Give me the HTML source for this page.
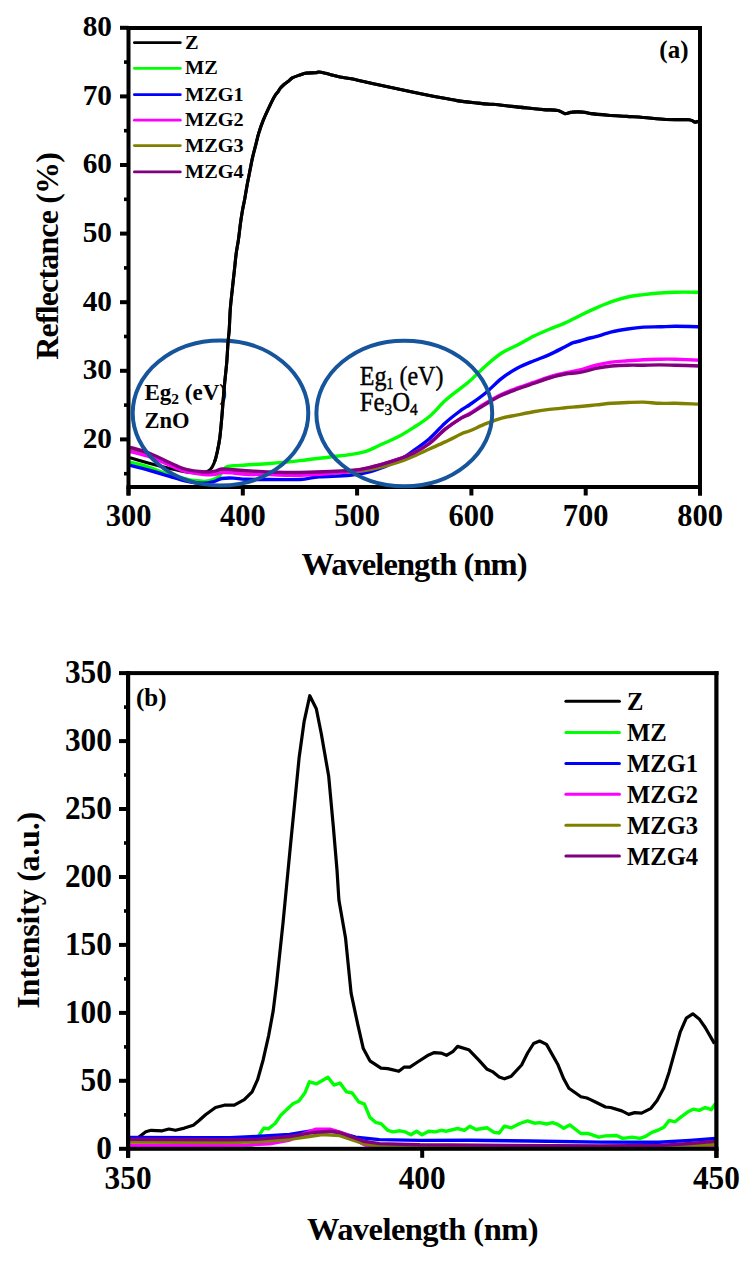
<!DOCTYPE html><html><head><meta charset="utf-8"><style>html,body{margin:0;padding:0;background:#fff;}svg{display:block;}text{font-family:"Liberation Serif",serif;}</style></head><body>
<svg width="756" height="1262" viewBox="0 0 756 1262">
<rect width="756" height="1262" fill="#fff"/>
<path d="M130.0 457.8 C133.3 458.8 143.3 461.7 150.0 463.5 C156.7 465.3 164.0 467.1 170.0 468.5 C176.0 469.9 181.8 471.3 186.0 472.0 C190.2 472.7 191.8 472.8 195.0 472.8 C198.2 472.8 202.4 472.8 205.0 472.2 C207.6 471.6 208.8 471.0 210.3 469.5 C211.8 468.0 212.9 466.1 214.1 463.1 C215.3 460.1 216.4 455.9 217.3 451.7 C218.2 447.5 219.1 443.3 219.8 437.8 C220.5 432.3 221.1 425.1 221.7 418.7 C222.3 412.3 222.7 406.0 223.2 399.7 C223.7 393.4 224.3 387.0 224.9 380.7 C225.5 374.4 226.3 368.0 226.8 361.7 C227.3 355.4 227.6 348.0 228.0 342.7 C228.4 337.4 228.8 335.6 229.2 330.0 C229.6 324.4 229.8 315.6 230.3 309.0 C230.8 302.4 231.5 296.7 232.2 290.5 C232.8 284.3 233.5 278.2 234.2 272.0 C234.9 265.8 235.5 258.8 236.2 253.5 C236.9 248.2 237.7 244.8 238.4 240.0 C239.1 235.2 239.7 229.2 240.3 224.5 C240.9 219.8 241.5 216.1 242.2 211.9 C242.9 207.7 243.8 203.8 244.7 199.2 C245.5 194.5 246.5 188.7 247.3 184.0 C248.2 179.3 249.0 175.5 249.8 171.3 C250.6 167.1 251.4 162.8 252.3 158.6 C253.2 154.4 254.4 150.1 255.5 145.9 C256.6 141.7 257.4 137.4 258.7 133.2 C260.0 129.0 261.3 125.0 263.1 120.6 C264.9 116.2 267.5 110.6 269.4 106.6 C271.3 102.6 273.0 99.0 274.5 96.5 C276.0 94.0 277.4 92.7 278.3 91.4 C279.2 90.1 279.1 89.8 280.0 88.6 C280.9 87.4 282.7 85.7 284.0 84.5 C285.3 83.3 286.6 82.6 288.0 81.5 C289.4 80.4 290.6 78.8 292.7 77.7 C294.8 76.6 298.4 75.5 300.6 74.7 C302.9 73.9 303.7 73.4 306.2 73.1 C308.7 72.8 313.6 72.9 315.7 72.7 C317.8 72.5 317.4 71.9 318.9 72.0 C320.3 72.1 322.4 72.6 324.4 73.1 C326.4 73.5 328.2 74.0 330.8 74.7 C333.4 75.4 336.6 76.4 340.0 77.1 C343.4 77.8 345.8 77.7 351.2 78.8 C356.6 79.9 365.2 82.1 372.3 83.6 C379.4 85.1 386.4 86.4 393.5 87.9 C400.6 89.4 407.6 91.0 414.7 92.5 C421.8 94.0 428.8 95.4 435.8 96.7 C442.9 98.0 449.9 99.5 457.0 100.6 C464.1 101.7 472.6 102.5 478.1 103.1 C483.6 103.7 487.0 104.0 490.0 104.2 C493.0 104.4 492.3 104.1 495.9 104.5 C499.5 104.9 506.4 105.8 511.7 106.4 C517.0 107.0 522.3 107.5 527.6 108.0 C532.9 108.5 538.5 109.2 543.5 109.6 C548.5 110.0 554.2 109.7 557.8 110.4 C561.4 111.1 562.5 113.3 564.9 113.6 C567.3 113.9 569.0 112.3 572.1 112.1 C575.2 111.8 580.0 111.8 583.2 112.1 C586.4 112.3 586.9 113.1 591.1 113.6 C595.3 114.1 602.4 114.7 608.3 115.2 C614.2 115.7 620.7 116.0 626.5 116.4 C632.3 116.8 636.6 117.0 643.2 117.5 C649.8 118.0 658.5 119.1 666.1 119.5 C673.7 119.9 684.1 119.4 688.9 119.8 C693.7 120.2 693.4 121.8 695.0 122.1 C696.6 122.3 697.9 121.4 698.5 121.3" fill="none" stroke="#000" stroke-width="3.1" stroke-linejoin="round" stroke-linecap="butt"/>
<path d="M130.0 462.2 C133.3 463.1 142.7 465.1 150.0 467.5 C157.3 469.9 167.6 474.6 173.6 476.5 C179.6 478.4 182.6 478.3 186.0 479.0 C189.4 479.7 190.6 480.1 193.9 480.5 C197.2 480.9 202.5 481.5 205.8 481.3 C209.1 481.1 211.6 480.2 213.8 479.3 C216.1 478.4 217.3 478.2 219.3 476.2 C221.3 474.2 223.3 469.1 225.7 467.4 C228.1 465.7 230.2 466.2 233.6 465.8 C237.0 465.4 239.9 465.4 246.0 465.0 C252.1 464.6 261.0 464.2 270.0 463.5 C279.0 462.8 290.0 461.7 300.0 460.6 C310.0 459.5 321.7 458.0 330.0 457.0 C338.3 456.0 344.0 455.5 350.0 454.6 C356.0 453.7 360.6 453.1 365.9 451.4 C371.2 449.7 376.4 446.7 381.7 444.3 C387.0 441.9 392.3 439.9 397.6 437.1 C402.9 434.3 408.2 431.0 413.5 427.6 C418.8 424.2 424.1 421.0 429.4 416.5 C434.7 412.0 439.9 405.4 445.2 400.6 C450.5 395.8 457.0 391.2 461.1 387.9 C465.2 384.6 465.9 384.5 470.0 380.8 C474.1 377.1 480.6 370.3 485.9 365.7 C491.2 361.1 496.4 356.4 501.7 353.0 C507.0 349.6 512.3 347.9 517.6 345.1 C522.9 342.3 528.2 339.0 533.5 336.3 C538.8 333.6 544.1 331.4 549.4 329.2 C554.7 327.0 559.9 325.3 565.2 322.9 C570.5 320.5 576.0 317.5 581.1 315.0 C586.2 312.5 590.8 310.3 595.9 308.1 C601.0 305.9 606.4 303.6 611.7 301.7 C617.0 299.8 622.3 298.2 627.6 297.0 C632.9 295.8 638.2 295.3 643.5 294.6 C648.8 293.9 654.1 293.4 659.4 293.0 C664.7 292.6 668.4 292.3 675.2 292.2 C682.0 292.1 695.9 292.2 700.0 292.2" fill="none" stroke="#00ff00" stroke-width="3.4" stroke-linejoin="round" stroke-linecap="butt"/>
<path d="M130.0 465.4 C133.3 466.2 142.4 468.4 150.0 470.5 C157.6 472.6 169.6 476.4 175.6 478.1 C181.6 479.9 181.6 480.1 186.0 481.0 C190.4 481.9 197.3 483.2 201.9 483.3 C206.5 483.4 210.5 482.5 213.8 481.7 C217.1 480.9 218.4 479.1 221.7 478.5 C225.0 477.9 229.5 478.0 233.6 478.1 C237.7 478.2 239.9 479.1 246.0 479.3 C252.1 479.5 261.0 479.5 270.0 479.5 C279.0 479.5 291.8 479.9 300.0 479.5 C308.2 479.1 310.7 477.5 319.0 476.8 C327.3 476.1 340.9 476.2 350.0 475.2 C359.1 474.1 365.9 472.9 373.8 470.5 C381.7 468.1 391.0 464.3 397.6 461.0 C404.2 457.7 408.2 454.3 413.5 450.6 C418.8 446.9 424.1 443.3 429.4 438.7 C434.7 434.1 439.9 427.6 445.2 422.9 C450.5 418.1 457.0 413.3 461.1 410.2 C465.2 407.1 465.9 407.4 470.0 404.5 C474.1 401.6 480.6 397.1 485.9 392.7 C491.2 388.3 496.4 382.5 501.7 378.4 C507.0 374.3 512.3 371.0 517.6 368.1 C522.9 365.2 528.2 363.2 533.5 361.0 C538.8 358.8 544.1 357.0 549.4 354.6 C554.7 352.2 561.2 348.7 565.2 346.7 C569.2 344.7 570.7 343.6 573.2 342.7 C575.7 341.8 577.2 341.8 580.0 341.0 C582.8 340.2 587.4 338.7 590.0 338.0 C592.6 337.3 592.3 337.7 595.9 336.7 C599.5 335.7 606.4 333.2 611.7 331.9 C617.0 330.6 622.3 329.8 627.6 329.0 C632.9 328.2 638.2 327.5 643.5 327.1 C648.8 326.7 654.1 326.9 659.4 326.8 C664.7 326.7 668.4 326.3 675.2 326.3 C682.0 326.3 695.9 326.7 700.0 326.8" fill="none" stroke="#0000ff" stroke-width="3.4" stroke-linejoin="round" stroke-linecap="butt"/>
<path d="M130.0 449.0 C133.3 450.0 142.4 452.1 150.0 455.0 C157.6 457.9 169.6 463.7 175.6 466.2 C181.6 468.7 181.6 469.1 186.0 470.2 C190.4 471.3 197.3 472.3 201.9 472.8 C206.5 473.3 210.5 473.3 213.8 473.0 C217.1 472.7 218.4 471.1 221.7 470.8 C225.0 470.5 229.5 471.1 233.6 471.3 C237.7 471.6 234.9 471.9 246.0 472.3 C257.1 472.7 282.7 473.8 300.0 473.8 C317.3 473.8 337.7 472.9 350.0 472.1 C362.3 471.3 365.9 470.5 373.8 468.9 C381.7 467.3 391.0 464.6 397.6 462.5 C404.2 460.4 408.2 458.4 413.5 456.2 C418.8 453.9 424.1 451.4 429.4 449.0 C434.7 446.6 439.9 444.4 445.2 441.9 C450.5 439.4 457.0 435.9 461.1 434.0 C465.2 432.1 465.9 432.5 470.0 430.8 C474.1 429.1 480.6 425.8 485.9 423.7 C491.2 421.6 496.4 419.6 501.7 418.1 C507.0 416.6 512.3 416.0 517.6 414.9 C522.9 413.8 528.2 412.6 533.5 411.7 C538.8 410.8 544.1 410.0 549.4 409.4 C554.7 408.8 560.1 408.3 565.2 407.8 C570.3 407.3 574.9 407.0 580.0 406.5 C585.1 406.0 590.6 405.4 595.9 404.9 C601.2 404.4 606.4 403.7 611.7 403.3 C617.0 402.9 622.3 402.7 627.6 402.5 C632.9 402.3 638.2 402.0 643.5 402.1 C648.8 402.2 654.1 403.1 659.4 403.3 C664.7 403.5 668.4 403.2 675.2 403.3 C682.0 403.4 695.9 404.0 700.0 404.1" fill="none" stroke="#808000" stroke-width="3.4" stroke-linejoin="round" stroke-linecap="butt"/>
<path d="M130.0 451.5 C133.3 452.4 142.4 454.3 150.0 457.0 C157.6 459.7 169.6 465.4 175.6 467.8 C181.6 470.2 181.6 470.4 186.0 471.5 C190.4 472.6 197.3 473.7 201.9 474.2 C206.5 474.7 210.5 474.9 213.8 474.6 C217.1 474.3 218.4 472.9 221.7 472.6 C225.0 472.3 229.5 472.7 233.6 473.0 C237.7 473.3 239.9 473.9 246.0 474.2 C252.1 474.5 261.0 474.4 270.0 474.6 C279.0 474.8 286.7 475.7 300.0 475.2 C313.3 474.7 337.7 472.9 350.0 471.5 C362.3 470.1 365.9 468.5 373.8 466.5 C381.7 464.5 391.0 461.6 397.6 459.4 C404.2 457.1 408.2 455.6 413.5 453.0 C418.8 450.4 424.1 447.5 429.4 443.5 C434.7 439.5 439.9 433.4 445.2 429.2 C450.5 425.0 457.0 420.8 461.1 418.1 C465.2 415.5 465.9 415.8 470.0 413.3 C474.1 410.8 480.6 406.2 485.9 403.0 C491.2 399.8 496.4 396.8 501.7 394.3 C507.0 391.8 512.3 389.9 517.6 387.9 C522.9 385.9 528.2 384.2 533.5 382.4 C538.8 380.5 544.1 378.4 549.4 376.8 C554.7 375.2 560.1 374.0 565.2 372.9 C570.3 371.8 574.9 371.3 580.0 370.0 C585.1 368.7 590.6 366.5 595.9 365.2 C601.2 363.9 606.4 362.8 611.7 362.1 C617.0 361.4 622.3 361.2 627.6 360.8 C632.9 360.4 638.2 360.0 643.5 359.7 C648.8 359.4 654.1 359.3 659.4 359.2 C664.7 359.1 668.4 359.0 675.2 359.2 C682.0 359.4 695.9 360.0 700.0 360.2" fill="none" stroke="#ff00ff" stroke-width="3.4" stroke-linejoin="round" stroke-linecap="butt"/>
<path d="M130.0 447.3 C133.3 448.3 142.4 450.5 150.0 453.5 C157.6 456.5 169.6 462.8 175.6 465.4 C181.6 468.0 181.6 468.3 186.0 469.4 C190.4 470.5 197.3 471.5 201.9 471.8 C206.5 472.1 210.5 471.9 213.8 471.4 C217.1 470.9 218.4 469.3 221.7 469.0 C225.0 468.7 229.5 469.5 233.6 469.8 C237.7 470.1 239.9 470.2 246.0 470.6 C252.1 471.0 261.0 471.7 270.0 472.0 C279.0 472.3 286.7 472.8 300.0 472.5 C313.3 472.2 337.7 471.5 350.0 470.5 C362.3 469.5 365.9 468.4 373.8 466.5 C381.7 464.6 391.0 461.6 397.6 459.4 C404.2 457.1 408.2 455.6 413.5 453.0 C418.8 450.4 424.1 447.5 429.4 443.5 C434.7 439.5 439.9 433.4 445.2 429.2 C450.5 425.0 457.0 420.6 461.1 418.1 C465.2 415.6 465.9 416.4 470.0 414.0 C474.1 411.6 480.6 407.1 485.9 404.0 C491.2 400.9 496.4 397.8 501.7 395.3 C507.0 392.8 512.3 391.0 517.6 389.0 C522.9 387.0 528.2 385.3 533.5 383.5 C538.8 381.7 544.1 379.6 549.4 378.0 C554.7 376.4 560.1 374.9 565.2 374.0 C570.3 373.1 574.9 373.3 580.0 372.4 C585.1 371.5 590.6 369.5 595.9 368.4 C601.2 367.3 606.4 366.5 611.7 366.0 C617.0 365.5 622.3 365.3 627.6 365.2 C632.9 365.1 638.2 365.2 643.5 365.2 C648.8 365.1 654.1 364.9 659.4 364.9 C664.7 364.9 668.4 365.0 675.2 365.2 C682.0 365.4 695.9 365.9 700.0 366.0" fill="none" stroke="#800080" stroke-width="3.4" stroke-linejoin="round" stroke-linecap="butt"/>
<g fill="#000">
<rect x="126.5" y="26.0" width="575.5" height="4.0"/>
<rect x="126.5" y="485.0" width="575.5" height="4.0"/>
<rect x="126.5" y="26.0" width="4.0" height="469.5"/>
<rect x="698.0" y="26.0" width="4.0" height="469.5"/>
<rect x="120.0" y="437.4" width="8.5" height="4"/>
<rect x="120.0" y="368.8" width="8.5" height="4"/>
<rect x="120.0" y="300.2" width="8.5" height="4"/>
<rect x="120.0" y="231.6" width="8.5" height="4"/>
<rect x="120.0" y="163.0" width="8.5" height="4"/>
<rect x="120.0" y="94.4" width="8.5" height="4"/>
<rect x="120.0" y="25.8" width="8.5" height="4"/>
<rect x="124.0" y="471.9" width="4.5" height="3.6"/>
<rect x="124.0" y="403.3" width="4.5" height="3.6"/>
<rect x="124.0" y="334.7" width="4.5" height="3.6"/>
<rect x="124.0" y="266.1" width="4.5" height="3.6"/>
<rect x="124.0" y="197.5" width="4.5" height="3.6"/>
<rect x="124.0" y="128.9" width="4.5" height="3.6"/>
<rect x="124.0" y="60.3" width="4.5" height="3.6"/>
<rect x="126.5" y="487.0" width="4" height="8.5"/>
<rect x="240.8" y="487.0" width="4" height="8.5"/>
<rect x="355.1" y="487.0" width="4" height="8.5"/>
<rect x="469.4" y="487.0" width="4" height="8.5"/>
<rect x="583.7" y="487.0" width="4" height="8.5"/>
<rect x="698.0" y="487.0" width="4" height="8.5"/>
</g>
<ellipse cx="220.5" cy="413" rx="87.8" ry="72.5" fill="none" stroke="#16559b" stroke-width="4"/>
<ellipse cx="404.3" cy="413.5" rx="87.9" ry="72.8" fill="none" stroke="#16559b" stroke-width="4"/>
<clipPath id="ca"><rect x="205" y="0" width="551" height="462"/></clipPath>
<path clip-path="url(#ca)" d="M130.0 457.8 C133.3 458.8 143.3 461.7 150.0 463.5 C156.7 465.3 164.0 467.1 170.0 468.5 C176.0 469.9 181.8 471.3 186.0 472.0 C190.2 472.7 191.8 472.8 195.0 472.8 C198.2 472.8 202.4 472.8 205.0 472.2 C207.6 471.6 208.8 471.0 210.3 469.5 C211.8 468.0 212.9 466.1 214.1 463.1 C215.3 460.1 216.4 455.9 217.3 451.7 C218.2 447.5 219.1 443.3 219.8 437.8 C220.5 432.3 221.1 425.1 221.7 418.7 C222.3 412.3 222.7 406.0 223.2 399.7 C223.7 393.4 224.3 387.0 224.9 380.7 C225.5 374.4 226.3 368.0 226.8 361.7 C227.3 355.4 227.6 348.0 228.0 342.7 C228.4 337.4 228.8 335.6 229.2 330.0 C229.6 324.4 229.8 315.6 230.3 309.0 C230.8 302.4 231.5 296.7 232.2 290.5 C232.8 284.3 233.5 278.2 234.2 272.0 C234.9 265.8 235.5 258.8 236.2 253.5 C236.9 248.2 237.7 244.8 238.4 240.0 C239.1 235.2 239.7 229.2 240.3 224.5 C240.9 219.8 241.5 216.1 242.2 211.9 C242.9 207.7 243.8 203.8 244.7 199.2 C245.5 194.5 246.5 188.7 247.3 184.0 C248.2 179.3 249.0 175.5 249.8 171.3 C250.6 167.1 251.4 162.8 252.3 158.6 C253.2 154.4 254.4 150.1 255.5 145.9 C256.6 141.7 257.4 137.4 258.7 133.2 C260.0 129.0 261.3 125.0 263.1 120.6 C264.9 116.2 267.5 110.6 269.4 106.6 C271.3 102.6 273.0 99.0 274.5 96.5 C276.0 94.0 277.4 92.7 278.3 91.4 C279.2 90.1 279.1 89.8 280.0 88.6 C280.9 87.4 282.7 85.7 284.0 84.5 C285.3 83.3 286.6 82.6 288.0 81.5 C289.4 80.4 290.6 78.8 292.7 77.7 C294.8 76.6 298.4 75.5 300.6 74.7 C302.9 73.9 303.7 73.4 306.2 73.1 C308.7 72.8 313.6 72.9 315.7 72.7 C317.8 72.5 317.4 71.9 318.9 72.0 C320.3 72.1 322.4 72.6 324.4 73.1 C326.4 73.5 328.2 74.0 330.8 74.7 C333.4 75.4 336.6 76.4 340.0 77.1 C343.4 77.8 345.8 77.7 351.2 78.8 C356.6 79.9 365.2 82.1 372.3 83.6 C379.4 85.1 386.4 86.4 393.5 87.9 C400.6 89.4 407.6 91.0 414.7 92.5 C421.8 94.0 428.8 95.4 435.8 96.7 C442.9 98.0 449.9 99.5 457.0 100.6 C464.1 101.7 472.6 102.5 478.1 103.1 C483.6 103.7 487.0 104.0 490.0 104.2 C493.0 104.4 492.3 104.1 495.9 104.5 C499.5 104.9 506.4 105.8 511.7 106.4 C517.0 107.0 522.3 107.5 527.6 108.0 C532.9 108.5 538.5 109.2 543.5 109.6 C548.5 110.0 554.2 109.7 557.8 110.4 C561.4 111.1 562.5 113.3 564.9 113.6 C567.3 113.9 569.0 112.3 572.1 112.1 C575.2 111.8 580.0 111.8 583.2 112.1 C586.4 112.3 586.9 113.1 591.1 113.6 C595.3 114.1 602.4 114.7 608.3 115.2 C614.2 115.7 620.7 116.0 626.5 116.4 C632.3 116.8 636.6 117.0 643.2 117.5 C649.8 118.0 658.5 119.1 666.1 119.5 C673.7 119.9 684.1 119.4 688.9 119.8 C693.7 120.2 693.4 121.8 695.0 122.1 C696.6 122.3 697.9 121.4 698.5 121.3" fill="none" stroke="#000" stroke-width="3.1" stroke-linejoin="round"/>
<text font-weight="bold" font-size="30.3" text-anchor="end" transform="translate(112.0 447.8) scale(0.967 1)">20</text>
<text font-weight="bold" font-size="30.3" text-anchor="end" transform="translate(112.0 379.2) scale(0.967 1)">30</text>
<text font-weight="bold" font-size="30.3" text-anchor="end" transform="translate(112.0 310.6) scale(0.967 1)">40</text>
<text font-weight="bold" font-size="30.3" text-anchor="end" transform="translate(112.0 242.0) scale(0.967 1)">50</text>
<text font-weight="bold" font-size="30.3" text-anchor="end" transform="translate(112.0 173.4) scale(0.967 1)">60</text>
<text font-weight="bold" font-size="30.3" text-anchor="end" transform="translate(112.0 104.8) scale(0.967 1)">70</text>
<text font-weight="bold" font-size="30.3" text-anchor="end" transform="translate(112.0 36.2) scale(0.967 1)">80</text>
<text font-weight="bold" font-size="30.5" text-anchor="middle" transform="translate(128.5 525.6) scale(1.0 1)">300</text>
<text font-weight="bold" font-size="30.5" text-anchor="middle" transform="translate(242.8 525.6) scale(1.0 1)">400</text>
<text font-weight="bold" font-size="30.5" text-anchor="middle" transform="translate(357.1 525.6) scale(1.0 1)">500</text>
<text font-weight="bold" font-size="30.5" text-anchor="middle" transform="translate(471.4 525.6) scale(1.0 1)">600</text>
<text font-weight="bold" font-size="30.5" text-anchor="middle" transform="translate(585.7 525.6) scale(1.0 1)">700</text>
<text font-weight="bold" font-size="30.5" text-anchor="middle" transform="translate(700.0 525.6) scale(1.0 1)">800</text>
<text x="301.5" y="575.4" font-weight="bold" font-size="32.5" textLength="226" lengthAdjust="spacing">Wavelength (nm)</text>
<text transform="translate(58 359.7) rotate(-90)" font-weight="bold" font-size="32" textLength="207.5" lengthAdjust="spacing">Reflectance (%)</text>
<text x="688.5" y="58" font-weight="bold" font-size="25" text-anchor="end">(a)</text>
<line x1="134.4" y1="42.7" x2="180.3" y2="42.7" stroke="#000" stroke-width="2.8" stroke-linecap="round"/>
<text x="185" y="48.7" font-weight="bold" font-size="19" transform="translate(185 0) scale(1.07 1) translate(-185 0)">Z</text>
<line x1="134.4" y1="68.3" x2="180.3" y2="68.3" stroke="#00ff00" stroke-width="2.8" stroke-linecap="round"/>
<text x="185" y="74.3" font-weight="bold" font-size="19" transform="translate(185 0) scale(1.07 1) translate(-185 0)">MZ</text>
<line x1="134.4" y1="94.7" x2="180.3" y2="94.7" stroke="#0000ff" stroke-width="2.8" stroke-linecap="round"/>
<text x="185" y="100.7" font-weight="bold" font-size="19" transform="translate(185 0) scale(1.07 1) translate(-185 0)">MZG1</text>
<line x1="134.4" y1="120.2" x2="180.3" y2="120.2" stroke="#ff00ff" stroke-width="2.8" stroke-linecap="round"/>
<text x="185" y="126.2" font-weight="bold" font-size="19" transform="translate(185 0) scale(1.07 1) translate(-185 0)">MZG2</text>
<line x1="134.4" y1="145.6" x2="180.3" y2="145.6" stroke="#808000" stroke-width="2.8" stroke-linecap="round"/>
<text x="185" y="151.6" font-weight="bold" font-size="19" transform="translate(185 0) scale(1.07 1) translate(-185 0)">MZG3</text>
<line x1="134.4" y1="171.9" x2="180.3" y2="171.9" stroke="#800080" stroke-width="2.8" stroke-linecap="round"/>
<text x="185" y="177.9" font-weight="bold" font-size="19" transform="translate(185 0) scale(1.07 1) translate(-185 0)">MZG4</text>
<text x="144.5" y="400.1" font-weight="bold" font-size="23">Eg<tspan font-size="15.5" dy="3.5">2</tspan><tspan dy="-3.5"> (eV)</tspan></text>
<text x="144.5" y="428" font-weight="bold" font-size="22.5">ZnO</text>
<text font-size="27.5" stroke="#000" stroke-width="0.45" transform="translate(359.8 384.5) scale(0.873 1)">Eg<tspan font-size="16" dy="4">1</tspan><tspan dy="-4"> (eV)</tspan></text>
<text font-size="27.5" stroke="#000" stroke-width="0.45" transform="translate(359.8 410.9) scale(0.9 1)">Fe<tspan font-size="17" dy="4.5">3</tspan><tspan dy="-4.5">O</tspan><tspan font-size="17" dy="4.5">4</tspan></text>
<path d="M128.5 1141.0 L136.0 1139.5 L140.0 1136.3 L145.8 1131.8 L151.1 1130.3 L162.2 1130.8 L168.9 1129.0 L175.5 1130.3 L184.4 1128.1 L193.3 1125.2 L198.8 1120.8 L205.5 1114.8 L215.5 1107.5 L224.3 1105.2 L234.3 1105.2 L244.3 1099.7 L252.1 1091.9 L257.6 1079.7 L263.2 1059.7 L268.7 1035.3 L273.2 1010.9 L276.5 984.3 L279.8 953.2 L283.1 922.1 L286.5 886.6 L290.7 843.0 L294.4 805.9 L299.1 757.8 L304.1 721.7 L309.8 695.7 L316.3 708.7 L321.3 733.7 L328.7 776.3 L333.3 826.3 L337.0 870.0 L338.9 900.0 L345.5 937.7 L351.1 993.2 L357.7 1024.2 L363.3 1048.6 L369.9 1060.8 L381.0 1068.2 L387.7 1068.6 L398.8 1071.3 L404.3 1067.1 L409.9 1067.1 L417.6 1062.0 L428.7 1054.9 L434.3 1052.6 L441.0 1053.1 L446.5 1055.3 L453.2 1051.3 L457.6 1046.4 L468.7 1049.7 L478.6 1059.9 L487.2 1069.3 L492.4 1071.6 L499.2 1077.1 L504.4 1078.8 L511.3 1076.2 L521.6 1065.0 L527.6 1053.0 L533.6 1043.5 L539.6 1041.0 L546.5 1044.4 L557.7 1064.2 L563.7 1078.8 L568.9 1088.2 L580.9 1096.8 L586.9 1098.0 L590.0 1099.4 L596.9 1102.8 L605.5 1107.0 L610.6 1107.5 L621.8 1110.9 L628.7 1114.4 L634.7 1112.6 L641.6 1113.2 L651.0 1108.3 L657.1 1100.6 L663.9 1087.7 L669.1 1072.2 L674.3 1053.3 L680.3 1031.8 L686.3 1018.1 L692.8 1013.8 L699.2 1018.9 L705.2 1027.5 L714.5 1043.6" fill="none" stroke="#000" stroke-width="3.2" stroke-linejoin="round" stroke-linecap="butt"/>
<path d="M129.0 1145.5 L150.0 1145.5 L165.0 1147.3 L250.0 1147.3 L258.5 1136.1 L263.8 1128.1 L268.4 1128.8 L275.1 1123.5 L281.0 1114.9 L292.9 1103.7 L298.9 1101.0 L304.8 1093.1 L309.4 1081.8 L316.7 1083.8 L328.0 1077.2 L333.9 1085.1 L340.0 1083.0 L346.6 1091.9 L352.2 1093.0 L358.8 1101.9 L364.4 1104.1 L369.9 1117.4 L375.5 1122.3 L381.0 1123.6 L387.7 1130.3 L393.2 1131.9 L399.9 1130.8 L405.4 1131.9 L411.0 1134.7 L416.5 1131.2 L422.1 1134.7 L428.7 1131.2 L435.4 1131.9 L441.0 1130.3 L446.5 1131.2 L457.6 1128.5 L464.3 1130.3 L469.8 1126.3 L476.0 1129.5 L487.2 1127.8 L494.1 1132.4 L499.2 1133.0 L504.4 1126.1 L511.3 1127.8 L519.9 1123.5 L527.6 1120.9 L534.5 1123.2 L539.6 1122.6 L546.5 1124.0 L552.5 1122.6 L557.7 1124.4 L563.7 1128.3 L569.7 1124.9 L580.9 1133.5 L587.8 1133.5 L590.0 1134.1 L598.6 1137.2 L605.5 1135.9 L616.7 1135.5 L622.7 1138.4 L632.1 1137.2 L639.9 1138.4 L645.0 1136.7 L651.9 1132.4 L658.8 1129.8 L663.9 1127.3 L669.1 1120.4 L675.1 1121.8 L681.1 1116.9 L688.0 1111.8 L693.2 1109.2 L699.2 1110.4 L705.2 1107.5 L711.2 1109.7 L715.5 1103.5" fill="none" stroke="#00ff00" stroke-width="3.4" stroke-linejoin="round" stroke-linecap="butt"/>
<path d="M129.0 1137.4 L200.0 1137.6 L230.0 1137.6 L256.5 1136.5 L289.5 1134.5 L309.4 1131.2 L320.0 1130.5 L335.0 1131.5 L355.6 1137.2 L379.4 1139.6 L420.0 1140.4 L470.0 1140.2 L530.0 1141.0 L600.0 1142.1 L658.8 1142.2 L690.0 1140.4 L715.5 1138.5" fill="none" stroke="#0000ff" stroke-width="3.4" stroke-linejoin="round" stroke-linecap="butt"/>
<path d="M129.0 1145.5 L200.0 1145.5 L245.9 1145.1 L269.7 1143.8 L290.0 1140.0 L305.0 1133.0 L316.0 1129.2 L330.0 1129.2 L340.0 1132.1 L347.6 1134.8 L363.5 1144.4 L371.4 1147.3 L690.0 1147.8 L705.0 1147.5 L715.5 1146.5" fill="none" stroke="#ff00ff" stroke-width="3.4" stroke-linejoin="round" stroke-linecap="butt"/>
<path d="M129.0 1142.1 L230.0 1142.5 L256.5 1141.8 L289.5 1139.2 L309.4 1136.5 L322.6 1134.5 L339.7 1135.6 L363.5 1143.6 L379.4 1146.0 L600.0 1146.5 L690.0 1146.2 L715.5 1144.3" fill="none" stroke="#808000" stroke-width="3.4" stroke-linejoin="round" stroke-linecap="butt"/>
<path d="M129.0 1139.3 L230.0 1139.8 L256.5 1139.4 L289.5 1136.5 L312.0 1132.6 L330.0 1131.2 L339.7 1132.5 L363.5 1141.2 L379.4 1143.6 L420.0 1144.8 L600.0 1146.0 L660.0 1145.5 L690.0 1143.5 L715.5 1141.4" fill="none" stroke="#800080" stroke-width="3.4" stroke-linejoin="round" stroke-linecap="butt"/>
<g fill="#000">
<rect x="126.0" y="671.1" width="592.5" height="4.0"/>
<rect x="126.0" y="1146.8" width="592.5" height="4.0"/>
<rect x="126.0" y="671.1" width="4.2" height="486.7"/>
<rect x="714.3" y="671.1" width="4.2" height="486.7"/>
<rect x="119" y="1146.8" width="9.1" height="4"/>
<rect x="119" y="1078.8" width="9.1" height="4"/>
<rect x="119" y="1010.9" width="9.1" height="4"/>
<rect x="119" y="942.9" width="9.1" height="4"/>
<rect x="119" y="875.0" width="9.1" height="4"/>
<rect x="119" y="807.0" width="9.1" height="4"/>
<rect x="119" y="739.1" width="9.1" height="4"/>
<rect x="119" y="671.1" width="9.1" height="4"/>
<rect x="124" y="1113.0" width="4.1" height="3.6"/>
<rect x="124" y="1045.1" width="4.1" height="3.6"/>
<rect x="124" y="977.1" width="4.1" height="3.6"/>
<rect x="124" y="909.2" width="4.1" height="3.6"/>
<rect x="124" y="841.2" width="4.1" height="3.6"/>
<rect x="124" y="773.2" width="4.1" height="3.6"/>
<rect x="124" y="705.3" width="4.1" height="3.6"/>
<rect x="126.1" y="1148.8" width="4" height="9"/>
<rect x="420.2" y="1148.8" width="4" height="9"/>
<rect x="714.4" y="1148.8" width="4" height="9"/>
</g>
<text font-weight="bold" font-size="33" text-anchor="end" transform="translate(111.9 1159.0) scale(0.95 1)">0</text>
<text font-weight="bold" font-size="33" text-anchor="end" transform="translate(111.9 1091.0) scale(0.95 1)">50</text>
<text font-weight="bold" font-size="33" text-anchor="end" transform="translate(111.9 1023.1) scale(0.95 1)">100</text>
<text font-weight="bold" font-size="33" text-anchor="end" transform="translate(111.9 955.1) scale(0.95 1)">150</text>
<text font-weight="bold" font-size="33" text-anchor="end" transform="translate(111.9 887.2) scale(0.95 1)">200</text>
<text font-weight="bold" font-size="33" text-anchor="end" transform="translate(111.9 819.2) scale(0.95 1)">250</text>
<text font-weight="bold" font-size="33" text-anchor="end" transform="translate(111.9 751.3) scale(0.95 1)">300</text>
<text font-weight="bold" font-size="33" text-anchor="end" transform="translate(111.9 683.3) scale(0.95 1)">350</text>
<text font-weight="bold" font-size="33" text-anchor="middle" transform="translate(128.1 1189.0) scale(0.95 1)">350</text>
<text font-weight="bold" font-size="33" text-anchor="middle" transform="translate(422.2 1189.0) scale(0.95 1)">400</text>
<text font-weight="bold" font-size="33" text-anchor="middle" transform="translate(716.4 1189.0) scale(0.95 1)">450</text>
<text x="307" y="1239.5" font-weight="bold" font-size="32.5" textLength="231.5" lengthAdjust="spacing">Wavelength (nm)</text>
<text transform="translate(38.8 1008.4) rotate(-90)" font-weight="bold" font-size="32" textLength="196.5" lengthAdjust="spacing">Intensity (a.u.)</text>
<text x="136" y="706.2" font-weight="bold" font-size="25">(b)</text>
<line x1="565.9" y1="701.2" x2="619.4" y2="701.2" stroke="#000" stroke-width="3" stroke-linecap="round"/>
<text x="627" y="709.7" font-weight="bold" font-size="25" transform="translate(627 0) scale(0.985 1) translate(-627 0)">Z</text>
<line x1="565.9" y1="732.5" x2="619.4" y2="732.5" stroke="#00ff00" stroke-width="3" stroke-linecap="round"/>
<text x="627" y="741.0" font-weight="bold" font-size="25" transform="translate(627 0) scale(0.985 1) translate(-627 0)">MZ</text>
<line x1="565.9" y1="763.6" x2="619.4" y2="763.6" stroke="#0000ff" stroke-width="3" stroke-linecap="round"/>
<text x="627" y="772.1" font-weight="bold" font-size="25" transform="translate(627 0) scale(0.985 1) translate(-627 0)">MZG1</text>
<line x1="565.9" y1="794.3" x2="619.4" y2="794.3" stroke="#ff00ff" stroke-width="3" stroke-linecap="round"/>
<text x="627" y="802.8" font-weight="bold" font-size="25" transform="translate(627 0) scale(0.985 1) translate(-627 0)">MZG2</text>
<line x1="565.9" y1="825.2" x2="619.4" y2="825.2" stroke="#808000" stroke-width="3" stroke-linecap="round"/>
<text x="627" y="833.7" font-weight="bold" font-size="25" transform="translate(627 0) scale(0.985 1) translate(-627 0)">MZG3</text>
<line x1="565.9" y1="856.1" x2="619.4" y2="856.1" stroke="#800080" stroke-width="3" stroke-linecap="round"/>
<text x="627" y="864.6" font-weight="bold" font-size="25" transform="translate(627 0) scale(0.985 1) translate(-627 0)">MZG4</text>
</svg></body></html>
